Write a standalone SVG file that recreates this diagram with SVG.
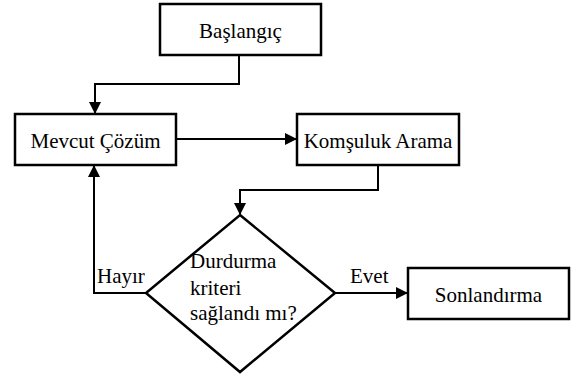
<svg xmlns="http://www.w3.org/2000/svg" width="584" height="376" viewBox="0 0 584 376">
<style>
.box{fill:#fff;stroke:#000;stroke-width:2.5}
.ln{fill:none;stroke:#000;stroke-width:2}
.t{font-family:'Liberation Serif','DejaVu Serif',serif;font-size:21px;fill:#000}
</style>
<defs>
<marker id="ah" markerWidth="12" markerHeight="12" viewBox="0 0 12 12" refX="11" refY="6" orient="auto" markerUnits="userSpaceOnUse">
<path d="M0,0 L12,6 L0,12 Z" fill="#000"/>
</marker>
</defs>
<rect width="584" height="376" fill="#fff"/>
<g id="connectors">
<polyline class="ln" points="239,55 239,84 95,84 95,113" marker-end="url(#ah)"/>
<line class="ln" x1="176" y1="139" x2="296" y2="139" marker-end="url(#ah)"/>
<polyline class="ln" points="378,165 378,190 240,190 240,214" marker-end="url(#ah)"/>
<polyline class="ln" points="146,293 94,293 94,166" marker-end="url(#ah)"/>
<line class="ln" x1="335" y1="293" x2="407" y2="293" marker-end="url(#ah)"/>
<text class="t" x="97" y="283">Hayır</text>
<text class="t" x="350" y="283">Evet</text>
</g>
<g id="baslangic">
<rect class="box" x="160" y="4" width="161" height="51"/>
<text class="t" x="240.5" y="38" text-anchor="middle">Başlangıç</text>
</g>
<g id="mevcut">
<rect class="box" x="15" y="114" width="161" height="51"/>
<text class="t" x="95.5" y="148" text-anchor="middle">Mevcut Çözüm</text>
</g>
<g id="komsuluk">
<rect class="box" x="297" y="114" width="162" height="51"/>
<text class="t" x="378" y="148" text-anchor="middle">Komşuluk Arama</text>
</g>
<g id="karar">
<polygon class="box" points="240,215 335,293 240,372 146,293"/>
<text class="t" x="190" y="268">Durdurma</text>
<text class="t" x="190" y="295">kriteri</text>
<text class="t" x="190" y="320">sağlandı mı?</text>
</g>
<g id="sonlandirma">
<rect class="box" x="408" y="268" width="161" height="51"/>
<text class="t" x="488.5" y="302" text-anchor="middle">Sonlandırma</text>
</g>
</svg>
